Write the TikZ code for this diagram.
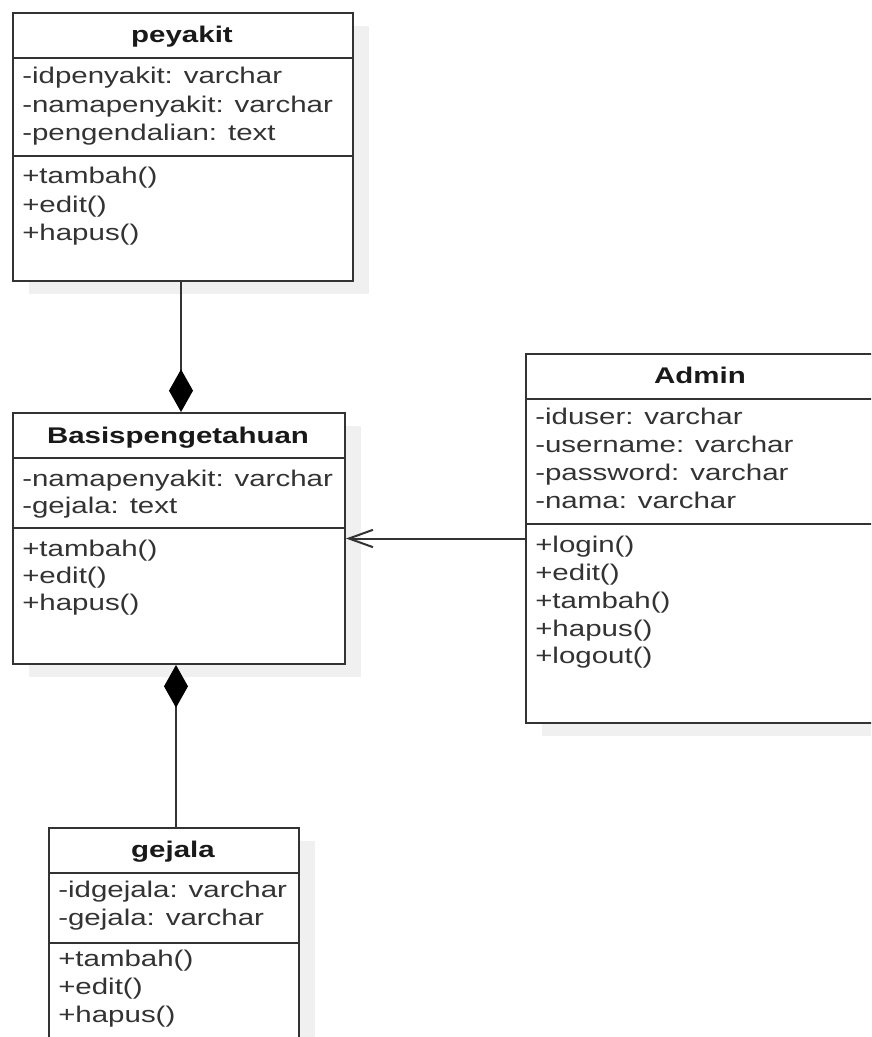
\documentclass[tikz,border=0pt]{standalone}
\usepackage{fontspec}
\newfontfamily\umlfont[FakeStretch=1.3]{Liberation Sans}
\usetikzlibrary{arrows.meta,shadows}
\definecolor{linegray}{HTML}{333333}
\definecolor{textgray}{HTML}{333333}
\definecolor{shadowgray}{HTML}{F0F0F0}
\tikzset{
  classbox/.style={draw=linegray, line width=1.5pt, fill=white, inner sep=0pt, anchor=north west,
    drop shadow={shadow xshift=12pt, shadow yshift=-9.75pt, fill=shadowgray, opacity=1}},
  classname/.style={font=\umlfont\bfseries\fontsize{17}{20}\selectfont, text=black!90, inner sep=0pt, anchor=base},
  member/.style={font=\umlfont\fontsize{17}{20}\selectfont, text=textgray, inner sep=0pt, anchor=base west},
  divider/.style={draw=linegray, line width=1.5pt},
  composition/.style={draw=linegray, line width=1.5pt, -{Diamond[length=32pt, width=18pt, color=black]}},
  navigable/.style={draw=linegray, line width=1.5pt, -{Straight Barb[length=18pt, width=13pt]}}
}

\begin{document}
\begin{tikzpicture}[x=0.75pt, y=-0.75pt]
        \useasboundingbox (0,0) rectangle (871,1037);
        \clip (0,0) rectangle (871,1037);

        % peyakit
        \node (peyakit) [classbox, minimum width=255pt, minimum height=201pt] at (12,12) {};
        \node (peyakit-name) [classname] at (182,43) {peyakit};
        \draw [divider] (12,58) -- (352,58);
        \draw [divider] (12,156) -- (352,156);
        \node (peyakit-a1) [member] at (22,84) {-idpenyakit: varchar};
        \node (peyakit-a2) [member] at (22,112.5) {-namapenyakit: varchar};
        \node (peyakit-a3) [member] at (22,141) {-pengendalian: text};
        \node (peyakit-m1) [member] at (22,184) {+tambah()};
        \node (peyakit-m2) [member] at (22,212.5) {+edit()};
        \node (peyakit-m3) [member] at (22,241) {+hapus()};

        % Basispengetahuan
        \node (basis) [classbox, minimum width=249pt, minimum height=188.25pt] at (12,412) {};
        \node (basis-name) [classname] at (178,443) {Basispengetahuan};
        \draw [divider] (12,458) -- (344,458);
        \draw [divider] (12,528) -- (344,528);
        \node (basis-a1) [member] at (22,486) {-namapenyakit: varchar};
        \node (basis-a2) [member] at (22,513) {-gejala: text};
        \node (basis-m1) [member] at (22,556) {+tambah()};
        \node (basis-m2) [member] at (22,583) {+edit()};
        \node (basis-m3) [member] at (22,610) {+hapus()};

        % Admin
        \node (admin) [classbox, minimum width=264pt, minimum height=276.75pt] at (525,353) {};
        \node (admin-name) [classname] at (700,383) {Admin};
        \draw [divider] (525,399) -- (877,399);
        \draw [divider] (525,524) -- (877,524);
        \node (admin-a1) [member] at (535,424) {-iduser: varchar};
        \node (admin-a2) [member] at (535,452) {-username: varchar};
        \node (admin-a3) [member] at (535,480) {-password: varchar};
        \node (admin-a4) [member] at (535,508.5) {-nama: varchar};
        \node (admin-m1) [member] at (535,552) {+login()};
        \node (admin-m2) [member] at (535,580) {+edit()};
        \node (admin-m3) [member] at (535,608) {+tambah()};
        \node (admin-m4) [member] at (535,636) {+hapus()};
        \node (admin-m5) [member] at (535,663) {+logout()};

        % gejala
        \node (gejala) [classbox, minimum width=187.5pt, minimum height=189.75pt] at (48,827) {};
        \node (gejala-name) [classname] at (173,857) {gejala};
        \draw [divider] (48,873) -- (298,873);
        \draw [divider] (48,943) -- (298,943);
        \node (gejala-a1) [member] at (58,897) {-idgejala: varchar};
        \node (gejala-a2) [member] at (58,925) {-gejala: varchar};
        \node (gejala-m1) [member] at (58,966) {+tambah()};
        \node (gejala-m2) [member] at (58,994) {+edit()};
        \node (gejala-m3) [member] at (58,1022) {+hapus()};

        % relations
        \draw [composition] ([xshift=-1.5pt]peyakit.south) -- ([xshift=-1.5pt]peyakit.south |- basis.north);
        \draw [composition] ([xshift=1.5pt]gejala.north) -- ([xshift=1.5pt]gejala.north |- basis.south);
        \draw [navigable] (admin.west) -- (admin.west -| basis.east);
\end{tikzpicture}
\end{document}
